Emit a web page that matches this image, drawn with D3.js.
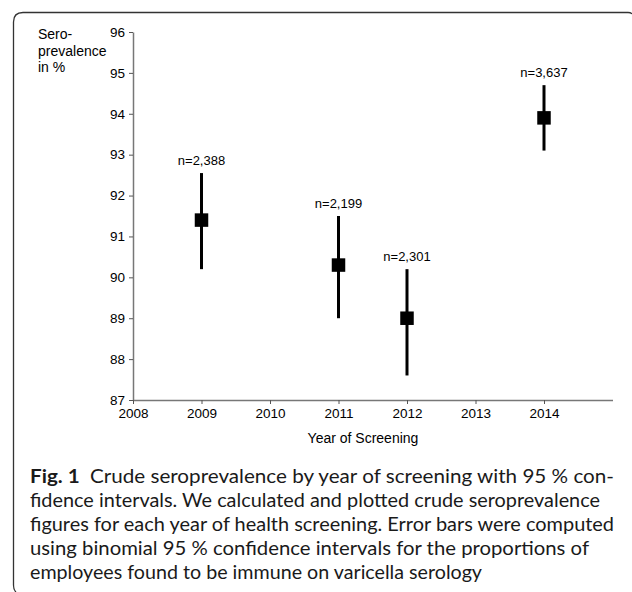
<!DOCTYPE html>
<html>
<head>
<meta charset="utf-8">
<script src="https://cdn.jsdelivr.net/npm/d3@7"></script>
<style>
  html, body { margin: 0; padding: 0; background: #fff; }
  svg { display: block; }
</style>
</head>
<body>
<svg id="chart" width="632" height="592"></svg>
<script>
// ---- data ----
const years = [2009, 2011, 2012, 2014];
const prevalence = [91.4, 90.3, 89.0, 93.9];
const ciLow = [90.2, 89.0, 87.6, 93.1];
const ciHigh = [92.55, 91.5, 90.2, 94.7];
const nLabels = ["n=2,388", "n=2,199", "n=2,301", "n=3,637"];
const xTicks = [2008, 2009, 2010, 2011, 2012, 2013, 2014];
const yTicks = [87, 88, 89, 90, 91, 92, 93, 94, 95, 96];
const yLabelLines = ["Sero-", "prevalence", "in %"];
const xLabel = "Year of Screening";
const captionBold = "Fig. 1";
const captionLines = [
  "Crude seroprevalence by year of screening with 95 % con-",
  "fidence intervals. We calculated and plotted crude seroprevalence",
  "figures for each year of health screening. Error bars were computed",
  "using binomial 95 % confidence intervals for the proportions of",
  "employees found to be immune on varicella serology"
];

const svg = d3.select("#chart");

// frame (rounded, open at bottom/right)
svg.append("path")
  .attr("d", "M16,592 Q13.5,590 13.5,585 L13.5,22 Q13.5,12.5 23,12.5 L628,12.5 Q631,12.5 632,14")
  .attr("fill", "none").attr("stroke", "#333").attr("stroke-width", 1.3);

const x = d3.scaleLinear().domain([2008, 2015]).range([133, 612.5]);
const y = d3.scaleLinear().domain([87, 96]).range([400, 32]);

const axisColor = "#777";
const tickFont = "Liberation Sans, Arial, sans-serif";

// y axis
const gy = svg.append("g").attr("transform", "translate(133,0)")
  .call(d3.axisLeft(y).tickValues(yTicks).tickSize(4).tickSizeOuter(0).tickPadding(4).tickFormat(d3.format("d")));
gy.select(".domain").attr("stroke", axisColor).attr("stroke-width", 1.5);
gy.selectAll(".tick line").attr("stroke", "#555");
gy.selectAll(".tick text").attr("font-family", tickFont).attr("font-size", 13.5).attr("fill", "#000");

// x axis
const gx = svg.append("g").attr("transform", "translate(0,400)")
  .call(d3.axisBottom(x).tickValues(xTicks).tickSize(4).tickSizeOuter(0).tickPadding(4).tickFormat(d3.format("d")));
gx.select(".domain").attr("stroke", axisColor).attr("stroke-width", 1.5);
gx.selectAll(".tick line").attr("stroke", "#555");
gx.selectAll(".tick text").attr("font-family", tickFont).attr("font-size", 13.5).attr("fill", "#000");

// y label
svg.append("text")
  .attr("font-family", tickFont).attr("font-size", 14).attr("fill", "#000")
  .selectAll("tspan").data(yLabelLines).join("tspan")
  .attr("x", 38).attr("y", (d, i) => 39 + i * 16.5).text(d => d);

// x label
svg.append("text")
  .attr("x", 363).attr("y", 443).attr("text-anchor", "middle")
  .attr("font-family", tickFont).attr("font-size", 14).attr("fill", "#000")
  .text(xLabel);

// error bars
const data = years.map((yr, i) => ({ yr, v: prevalence[i], lo: ciLow[i], hi: ciHigh[i], n: nLabels[i] }));
svg.append("g").selectAll("line").data(data).join("line")
  .attr("x1", d => x(d.yr)).attr("x2", d => x(d.yr))
  .attr("y1", d => y(d.hi)).attr("y2", d => y(d.lo))
  .attr("stroke", "#000").attr("stroke-width", 3);

// markers
const s = 13.5;
svg.append("g").selectAll("rect").data(data).join("rect")
  .attr("x", d => x(d.yr) - s / 2).attr("y", d => y(d.v) - s / 2)
  .attr("width", s).attr("height", s).attr("fill", "#000");

// n labels
svg.append("g").selectAll("text").data(data).join("text")
  .attr("x", d => x(d.yr)).attr("y", d => y(d.hi) - 8)
  .attr("text-anchor", "middle")
  .attr("font-family", tickFont).attr("font-size", 13).attr("fill", "#000")
  .text(d => d.n);

// caption
const capFont = "Lato, 'Open Sans', sans-serif";
const capLeft = 30;
const capEnds = [614, 600, 614, 589, 482];
const capBase = [483, 507, 531, 555, 579];
const cap = svg.append("g").attr("font-family", capFont).attr("font-size", 18.5).attr("fill", "#1a1a1a");
const first = cap.append("text").attr("x", capLeft).attr("y", capBase[0])
  .attr("textLength", capEnds[0] - capLeft).attr("lengthAdjust", "spacingAndGlyphs");
first.append("tspan").attr("font-weight", "bold").text(captionBold);
first.append("tspan").text("\u2002" + captionLines[0]);
captionLines.slice(1).forEach((line, i) => {
  cap.append("text").attr("x", capLeft).attr("y", capBase[i + 1]).text(line)
    .attr("textLength", capEnds[i + 1] - capLeft).attr("lengthAdjust", "spacingAndGlyphs");
});
</script>
</body>
</html>
